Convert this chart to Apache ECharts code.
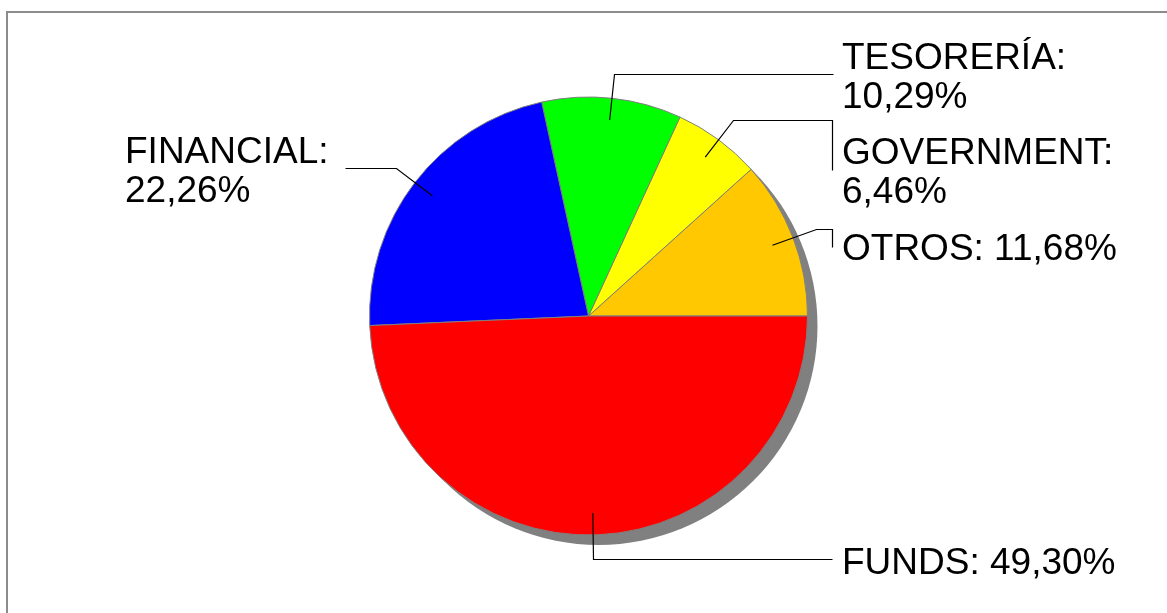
<!DOCTYPE html>
<html>
<head>
<meta charset="utf-8">
<script src="https://cdn.jsdelivr.net/npm/echarts@6/dist/echarts.min.js"></script>
<style>
html,body{margin:0;padding:0;background:#fff;}
#chart{width:1167px;height:613px;}
</style>
</head>
<body>
<div id="chart"></div>
<script>
// ---- data ----
const categories = ['OTROS', 'GOVERNMENT', 'TESORERÍA', 'FINANCIAL', 'FUNDS'];
const values = [11.68, 6.46, 10.29, 22.26, 49.30];
const colors = ['#FFC800', '#FFFF00', '#00FF00', '#0000FF', '#FF0000'];
const labelBreak = [false, true, true, true, false];

// ---- layout (label placement / leader-line bends) ----
const CX = 588.5, CY = 316, R = 219;
const labelPos = [
  {x: 842, y: 230, bends: [[816, 229], [832, 229], [832, 247]]},
  {x: 842, y: 134, bends: [[733, 120], [832, 120], [832, 170]]},
  {x: 842, y: 39,  bends: [[614, 74], [833, 74]]},
  {x: 125, y: 133, bends: [[396, 168], [345, 168]]},
  {x: 842, y: 544, bends: [[593, 559], [832, 559]]}
];

const chart = echarts.init(document.getElementById('chart'), null, {renderer: 'canvas'});
const fmt = v => v.toFixed(2).replace('.', ',') + '%';

const frame = {
  type: 'rect', z: -10, silent: true,
  shape: {x: 7, y: 12, width: 1400, height: 800},
  style: {fill: 'none', stroke: '#8c8c8c', lineWidth: 2}
};

chart.setOption({
  animation: false,
  backgroundColor: '#fff',
  graphic: [frame],
  series: [
    {
      type: 'pie', silent: true, z: 1,
      center: [CX + 10, CY + 10], radius: R,
      label: {show: false}, labelLine: {show: false},
      itemStyle: {color: '#808080', borderWidth: 0},
      emphasis: {disabled: true},
      data: [{value: 1, name: 'shadow'}]
    },
    {
      type: 'pie', z: 2,
      center: [CX, CY], radius: R,
      startAngle: 0, clockwise: false,
      avoidLabelOverlap: false,
      emphasis: {disabled: true},
      itemStyle: {borderColor: '#808080', borderWidth: 1},
      label: {
        show: true, position: 'outside',
        fontFamily: 'Liberation Sans, Arial, sans-serif',
        fontSize: 37, lineHeight: 39, color: '#000',
        formatter: p => p.name + ':' + (labelBreak[p.dataIndex] ? '\n' : ' ') + fmt(p.value)
      },
      labelLine: {show: false},
      labelLayout: function (params) {
        const lp = labelPos[params.dataIndex];
        return {x: lp.x, y: lp.y, align: 'left', verticalAlign: 'top'};
      },
      data: categories.map((c, i) => ({name: c, value: values[i], itemStyle: {color: colors[i]}}))
    }
  ]
});

// leader lines: start inside each slice at its mid-angle, taken from the pie's own layout
const pieData = chart.getModel().getSeriesByIndex(1).getData();
const lines = [];
categories.forEach((c, i) => {
  const lay = pieData.getItemLayout(i);
  const mid = (lay.startAngle + lay.endAngle) / 2;
  const rr = lay.r * 0.9;
  const start = [lay.cx + rr * Math.cos(mid), lay.cy + rr * Math.sin(mid)];
  const bends = labelPos[i].bends.map(p => [p[0] + 0.5, p[1] + 0.5]);
  lines.push({
    type: 'polyline', z: 100, silent: true,
    shape: {points: [start].concat(bends)},
    style: {stroke: '#000', lineWidth: 1.2, fill: null}
  });
});
chart.setOption({graphic: [frame].concat(lines)}, {replaceMerge: ['graphic']});
</script>
</body>
</html>
